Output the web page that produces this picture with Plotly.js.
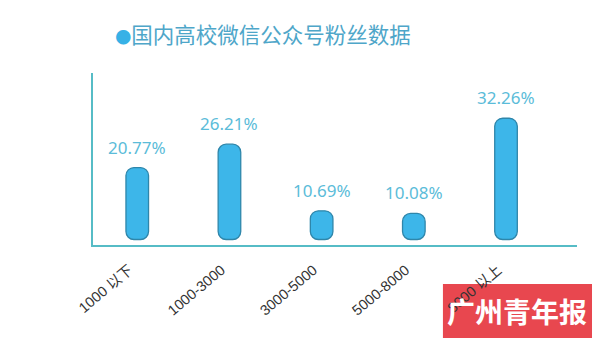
<!DOCTYPE html>
<html>
<head>
<meta charset="utf-8">
<script src="https://cdn.plot.ly/plotly-3.0.1.min.js"></script>
<style>html,body{margin:0;padding:0;background:#fff;}#chart{width:600px;height:346px;}</style>
</head>
<body>
<div id="chart"></div>
<script>
// ---- data ----
const categories = ['1000 以下', '1000-3000', '3000-5000', '5000-8000', '8000 以上'];
const shares = [20.77, 26.21, 10.69, 10.08, 32.26];
const labels = ['20.77%', '26.21%', '10.69%', '10.08%', '32.26%'];
const titleText = '国内高校微信公众号粉丝数据';
const logoText = '广州青年报';

// ---- styling ----
const baseVal = 4.0;        // visual baseline where the pills start
const yMin = 2.72, yMax = 42.81;

const data = [{
  type: 'bar', x: categories,
  base: shares.map(() => baseVal),
  y: shares.map(v => v - baseVal),
  width: 0.245,
  marker: {color: '#3db6e9', line: {color: '#2f86aa', width: 1.3}, cornerradius: 8},
  hoverinfo: 'skip', showlegend: false
}];

const annotations = shares.map((v, i) => ({
  x: categories[i], y: v, xref: 'x', yref: 'y',
  text: labels[i], showarrow: false, yanchor: 'bottom', yshift: 7,
  font: {family: 'Noto Sans, DejaVu Sans, sans-serif', size: 17, color: '#5bbcd9'}
}));
annotations.push({
  xref: 'paper', yref: 'paper', x: 0.877, y: -0.384,
  text: '<b>' + logoText + '</b>', showarrow: false,
  xanchor: 'center', yanchor: 'middle',
  font: {family: 'Noto Sans CJK SC, sans-serif', size: 28, color: '#ffffff'}
});

const layout = {
  width: 600, height: 346,
  paper_bgcolor: '#ffffff', plot_bgcolor: '#ffffff',
  margin: {l: 93, r: 23, t: 73, b: 101},
  title: {
    text: '<span style="color:#37b1e6;font-size:16px">●</span>' + titleText,
    x: 263/600, xref: 'container', xanchor: 'center',
    y: 1 - 35/346, yref: 'container', yanchor: 'middle',
    font: {family: 'Noto Sans CJK SC, sans-serif', size: 21.5, color: '#4ea6c9'}
  },
  xaxis: {
    type: 'category', range: [-0.48, 4.77],
    showline: true, linecolor: '#56bcc6', linewidth: 2,
    showgrid: false, zeroline: false, ticks: '',
    tickangle: -40, ticklabelstandoff: 9, ticklabelshift: -8,
    tickfont: {family: 'Liberation Sans, Noto Sans CJK SC, sans-serif', size: 14.5, color: '#333333'}
  },
  yaxis: {
    range: [yMin, yMax],
    showline: true, linecolor: '#56bcc6', linewidth: 2,
    showgrid: false, zeroline: false, showticklabels: false, ticks: ''
  },
  shapes: [{
    type: 'rect', xref: 'paper', yref: 'paper', layer: 'below',
    x0: 0.723, x1: 1.031, y0: -0.541, y1: -0.227,
    fillcolor: '#e8474f', line: {width: 0}
  }],
  annotations: annotations
};

Plotly.newPlot('chart', data, layout, {displayModeBar: false, staticPlot: true});
</script>
</body>
</html>
